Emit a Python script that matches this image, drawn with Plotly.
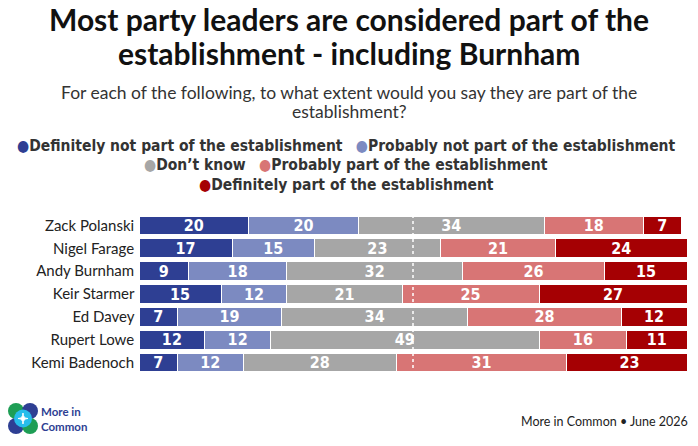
import plotly.graph_objects as go

leaders = ['Zack Polanski', 'Nigel Farage', 'Andy Burnham', 'Keir Starmer',
           'Ed Davey', 'Rupert Lowe', 'Kemi Badenoch']

series_names = [
    'Definitely not part of the establishment',
    'Probably not part of the establishment',
    'Don\u2019t know',
    'Probably part of the establishment',
    'Definitely part of the establishment',
]
definitely_not = [20, 17, 9, 15, 7, 12, 7]
probably_not = [20, 15, 18, 12, 19, 12, 12]
dont_know = [34, 23, 32, 21, 34, 49, 28]
probably = [18, 21, 26, 25, 28, 16, 31]
definitely = [7, 24, 15, 27, 12, 11, 23]

colors = ['#2E3F93', '#7C8AC1', '#A6A6A6', '#D87575', '#A50003']

title_lines = ['Most party leaders are considered part of the',
               'establishment - including Burnham']
subtitle_lines = ['For each of the following, to what extent would you say they are part of the',
                  'establishment?']
source = 'More in Common \u2022 June 2026'

W, H = 698, 446
L, R, T, B = 139, 11, 214, 72
COND = 'DejaVu Sans Condensed, DejaVu Sans'

fig = go.Figure()
for name, vals, col in zip(series_names,
                           [definitely_not, probably_not, dont_know, probably, definitely],
                           colors):
    fig.add_trace(go.Bar(
        y=leaders, x=vals, name=name, orientation='h',
        marker=dict(color=col, line=dict(color='white', width=1)),
        text=vals, texttemplate='<b>%{text}</b>', textposition='inside', textangle=0,
        insidetextanchor='middle', constraintext='none',
        textfont=dict(family=COND, size=16, color='white'),
        showlegend=False,
    ))


def px_x(px):
    return (px - L) / (W - L - R)


def px_y(py):
    return (H - B - py) / (H - T - B)


def note(text, x, y, size, color, family='Lato', xanchor='center', align='center'):
    fig.add_annotation(text=text, x=px_x(x), y=px_y(y), xref='paper', yref='paper',
                       showarrow=False, xanchor=xanchor, yanchor='middle', align=align,
                       borderpad=0, font=dict(family=family, size=size, color=color))


# dashed midline
fig.add_shape(type='line', x0=50, x1=50, xref='x', y0=0, y1=1, yref='paper',
              line=dict(color='white', width=1.5, dash='dot'), layer='above')

# title + subtitle, one annotation per line to control spacing
for line, py in zip(title_lines, [19, 53]):
    note('<b>' + line + '</b>', 349, py, 30, '#111111')
for line, py in zip(subtitle_lines, [92, 111]):
    note(line, 349, py, 17.5, '#333333')

# legend rows
def dot(i):
    return '<span style="color:%s">\u25cf</span>' % colors[i]

legend_rows = [
    dot(0) + '<b>' + series_names[0] + '</b>   ' + dot(1) + '<b>' + series_names[1] + '</b>',
    dot(2) + '<b>' + series_names[2] + '</b>   ' + dot(3) + '<b>' + series_names[3] + '</b>',
    dot(4) + '<b>' + series_names[4] + '</b>',
]
for row, py in zip(legend_rows, [146, 165, 185]):
    note(row, 346, py, 15.5, '#333333', family=COND)

# logo
logo = [((16, 411), '#1E9E55'), ((30, 411), '#2E3F93'),
        ((16, 426), '#2E3F93'), ((30, 426), '#1E9E55')]
for (cx, cy), col in logo:
    fig.add_shape(type='circle', xref='paper', yref='paper',
                  x0=px_x(cx - 8), x1=px_x(cx + 8), y0=px_y(cy + 8), y1=px_y(cy - 8),
                  fillcolor=col, line=dict(width=0), layer='above')
fig.add_shape(type='circle', xref='paper', yref='paper',
              x0=px_x(14), x1=px_x(32), y0=px_y(427.5), y1=px_y(409.5),
              fillcolor='#27BDEB', line=dict(width=0), layer='above')
fig.add_shape(type='path', xref='paper', yref='paper',
              path='M %f,%f Q %f,%f %f,%f Q %f,%f %f,%f Q %f,%f %f,%f Q %f,%f %f,%f Z' % (
                  px_x(23), px_y(413), px_x(23), px_y(418.5), px_x(28), px_y(418.5),
                  px_x(23), px_y(418.5), px_x(23), px_y(424),
                  px_x(23), px_y(418.5), px_x(18), px_y(418.5),
                  px_x(23), px_y(418.5), px_x(23), px_y(413)),
              fillcolor='white', line=dict(color='white', width=1), layer='above')
note('<b>More in<br>Common</b>', 40, 419, 11.5, '#2E3F93', xanchor='left', align='left')

note(source, 689, 421, 12.5, '#222222', xanchor='right')

fig.update_layout(
    barmode='stack', bargap=0.18,
    width=W, height=H,
    margin=dict(l=L, r=R, t=T, b=B, autoexpand=False),
    plot_bgcolor='white', paper_bgcolor='white',
    xaxis=dict(range=[0, 100], visible=False, fixedrange=True),
    yaxis=dict(autorange='reversed', showgrid=False, showline=False, ticks='',
               automargin=False, ticksuffix=' ',
               tickfont=dict(family='Lato', size=15, color='#222222')),
    font=dict(family='Lato'),
)

# the page's default 8px body margin would push the figure off the window
fig.write_html('out.html', config={'displayModeBar': False},
               post_script="document.body.style.margin='0';")
